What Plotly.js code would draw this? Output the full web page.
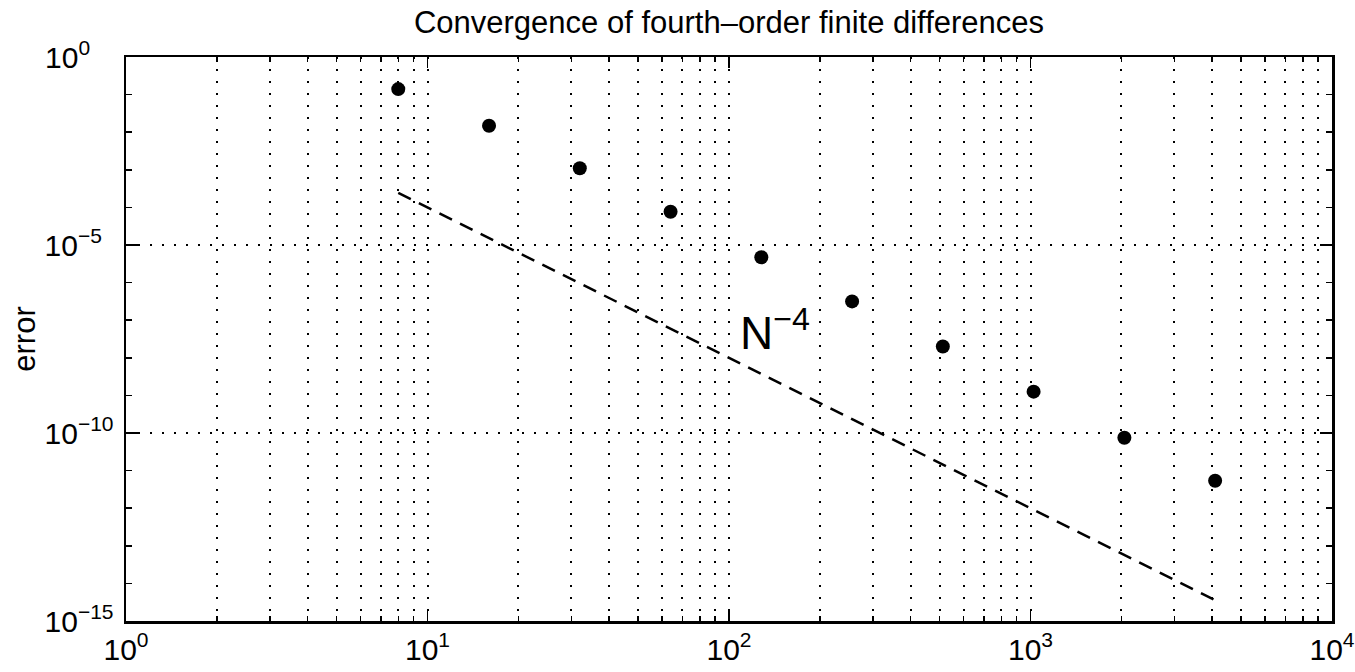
<!DOCTYPE html>
<html>
<head>
<meta charset="utf-8">
<script src="https://cdn.plot.ly/plotly-3.0.1.min.js"></script>
<style>html,body{margin:0;padding:0;background:#fff;}#chart{width:1355px;height:672px;}</style>
</head>
<body>
<div id="chart"></div>
<script>
// Data: grid size N and measured error
const N = [8, 16, 32, 64, 128, 256, 512, 1024, 2048, 4096];
const errorValues = [1.40e-1, 1.48e-2, 1.10e-3, 7.67e-5, 4.73e-6, 3.16e-7, 2.0e-8, 1.26e-9, 7.5e-11, 5.37e-12];
// Reference slope line N^-4 (end points)
const refN = [8, 4096];
const refValues = [2.44e-4, 3.55e-15];

// Tick labels (y labels padded so the "10" bases line up, as in the reference)
const xTickVals = [1, 10, 100, 1000, 10000];
const xTickText = ['10<sup>0</sup>', '10<sup>1</sup>', '10<sup>2</sup>', '10<sup>3</sup>', '10<sup>4</sup>'];
const xMinorVals = [2,3,4,5,6,7,8,9, 20,30,40,50,60,70,80,90, 200,300,400,500,600,700,800,900, 2000,3000,4000,5000,6000,7000,8000,9000];
const yTickVals = [1, 1e-5, 1e-10, 1e-15];
const yTickText = ['10<sup>0\u00A0\u00A0\u00A0\u00A0</sup>', '10<sup>\u22125\u00A0\u00A0</sup>', '10<sup>\u221210</sup>', '10<sup>\u221215</sup>'];
const yMinorVals = [1e-1,1e-2,1e-3,1e-4, 1e-6,1e-7,1e-8,1e-9, 1e-11,1e-12,1e-13,1e-14];

const titleText = 'Convergence of fourth\u2013order finite differences';
const yTitle = 'error';
const slopeLabel = 'N<sup>\u22124</sup>';

const FONT = 'Liberation Sans, Arial, Helvetica, sans-serif';
const DOT = '2px,10px';

const traces = [
  {
    x: refN, y: refValues, type: 'scatter', mode: 'lines',
    line: {color: 'black', width: 2.5, dash: '14px,9px'},
    hoverinfo: 'skip'
  },
  {
    x: N, y: errorValues, type: 'scatter', mode: 'markers',
    marker: {color: 'black', size: 14},
    hoverinfo: 'skip'
  }
];

const layout = {
  width: 1355, height: 672,
  margin: {l: 126, r: 23, t: 57, b: 51},
  paper_bgcolor: 'white', plot_bgcolor: 'white',
  font: {family: FONT, size: 30, color: 'black'},
  showlegend: false,
  hovermode: false,
  title: {
    text: titleText,
    font: {family: FONT, size: 31, color: 'black'},
    x: 0.5, xref: 'paper', xanchor: 'center',
    y: 1 - 22.5/672, yref: 'container', yanchor: 'middle'
  },
  xaxis: {
    type: 'log', range: [0, 4],
    tickmode: 'array', tickvals: xTickVals, ticktext: xTickText,
    ticks: 'inside', ticklen: 11, tickwidth: 1.5, tickcolor: 'black',
    showline: true, linecolor: 'black', linewidth: 2.5, mirror: 'ticks',
    showgrid: true, gridcolor: 'black', gridwidth: 2, griddash: DOT,
    zeroline: false,
    tickfont: {family: FONT, size: 30, color: 'black'},
    minor: {
      tickmode: 'array', tickvals: xMinorVals,
      ticks: 'inside', ticklen: 5, tickwidth: 1.5, tickcolor: 'black',
      showgrid: true, gridcolor: 'black', gridwidth: 2, griddash: DOT
    }
  },
  yaxis: {
    type: 'log', range: [-15, 0],
    tickmode: 'array', tickvals: yTickVals, ticktext: yTickText,
    ticks: 'inside', ticklen: 12, tickwidth: 1.5, tickcolor: 'black',
    ticklabelstandoff: 4,
    showline: true, linecolor: 'black', linewidth: 2.5, mirror: 'ticks',
    showgrid: true, gridcolor: 'black', gridwidth: 2, griddash: DOT,
    zeroline: false,
    tickfont: {family: FONT, size: 30, color: 'black'},
    title: {text: yTitle, font: {family: FONT, size: 31, color: 'black'}, standoff: 0},
    minor: {
      tickmode: 'array', tickvals: yMinorVals,
      ticks: 'inside', ticklen: 6, tickwidth: 1.5, tickcolor: 'black',
      showgrid: false
    }
  },
  annotations: [{
    text: slopeLabel,
    x: Math.log10(107), y: -8.08, xref: 'x', yref: 'y',
    xanchor: 'left', yanchor: 'bottom',
    showarrow: false,
    font: {family: FONT, size: 46, color: 'black'}
  }]
};

Plotly.newPlot('chart', traces, layout, {staticPlot: true, displayModeBar: false});
</script>
</body>
</html>
